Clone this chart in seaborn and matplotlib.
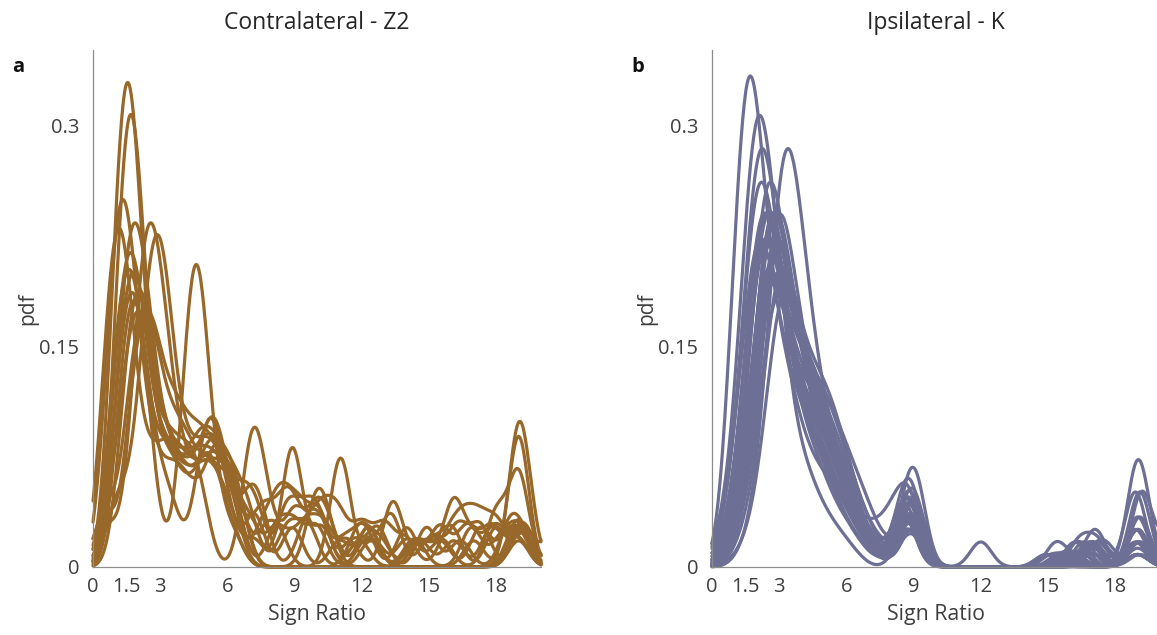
import numpy as np
import pandas as pd
import matplotlib
matplotlib.use("Agg")
import matplotlib.pyplot as plt
import seaborn as sns

# Sign-ratio observations per animal, written as (sign ratio, number of trials).
# Ratios above 20 fall outside the plotted range but still belong to each pdf.

# ---- Contralateral - Z2 ----
z2_01 = [(0.9, 8), (1.25, 13), (1.6, 15), (1.95, 11), (2.3, 6), (2.9, 6), (3.5, 5), (4.2, 5),
         (5.0, 6), (5.6, 4), (6.3, 2), (9.9, 4), (10.4, 3), (19.0, 10), (19.5, 2)]
z2_02 = [(1.0, 6), (1.35, 12), (1.7, 14), (2.05, 11), (2.4, 6), (3.0, 5), (3.6, 5), (4.3, 4),
         (5.0, 5), (5.5, 5), (6.0, 3), (7.2, 4), (8.9, 3), (11.0, 2), (12.3, 3), (17.0, 2), (19.0, 10)]
z2_03 = [(1.1, 6), (1.5, 10), (1.9, 11), (2.3, 9), (2.7, 6), (3.2, 5), (3.8, 5), (4.5, 5),
         (5.2, 7), (5.7, 5), (6.3, 3), (7.6, 3), (8.4, 5), (9.2, 4), (10.1, 4), (11.9, 2),
         (14.4, 2), (16.9, 3), (18.2, 2), (19.0, 3)]
z2_04 = [(0.6, 6), (1.0, 10), (1.35, 11), (1.7, 9), (2.1, 6), (2.6, 5), (3.2, 4), (3.8, 5),
         (4.5, 4), (5.3, 6), (5.9, 5), (6.5, 4), (19.1, 3), (22.0, 22)]
z2_05 = [(0.7, 3), (1.8, 6), (2.2, 10), (2.6, 11), (3.0, 9), (3.4, 6), (3.9, 5), (4.6, 5),
         (5.3, 5), (5.9, 4), (6.4, 3), (8.2, 3), (9.0, 3), (10.0, 3), (12.2, 2), (13.3, 4),
         (15.0, 2), (16.0, 3), (18.0, 3), (19.3, 3), (22.0, 7)]
z2_06 = [(0.9, 3), (1.4, 3), (2.05, 5), (2.45, 9), (2.85, 11), (3.25, 9), (3.65, 6), (4.3, 6),
         (5.0, 6), (5.6, 5), (6.2, 3), (7.0, 4), (7.5, 3), (9.5, 3), (10.2, 3), (12.4, 2),
         (14.6, 2), (16.1, 2), (17.8, 3), (19.0, 3), (22.0, 9)]
z2_07 = [(0.5, 6), (0.85, 9), (1.2, 10), (1.55, 8), (1.9, 5), (2.5, 5), (3.1, 5), (3.7, 6),
         (4.4, 5), (5.1, 5), (5.7, 5), (6.3, 3), (19.0, 2), (22.0, 26)]
z2_08 = [(0.4, 3), (1.2, 5), (1.6, 7), (2.0, 8), (2.4, 7), (2.8, 5), (3.3, 5), (3.9, 5),
         (4.6, 6), (5.2, 6), (5.8, 5), (6.4, 4), (7.0, 3), (8.6, 4), (9.3, 3), (10.0, 4),
         (11.2, 2), (12.1, 3), (14.0, 3), (15.5, 2), (17.3, 3), (18.5, 2), (19.1, 2), (22.0, 3)]
z2_09 = [(0.6, 4), (1.5, 5), (1.9, 7), (2.3, 8), (2.7, 7), (3.1, 5), (3.6, 6), (4.2, 6),
         (4.9, 5), (5.5, 4), (6.1, 4), (6.8, 4), (7.4, 3), (8.9, 9), (10.2, 3), (11.6, 2),
         (12.7, 3), (14.9, 3), (16.4, 2), (18.6, 3), (19.2, 2), (22.0, 4)]
z2_10 = [(1.0, 5), (1.4, 8), (1.8, 9), (2.2, 7), (2.6, 4), (3.7, 1), (4.2, 8), (4.6, 12),
         (5.0, 8), (5.6, 3), (6.3, 2), (18.8, 2), (19.2, 2), (21.5, 17), (23.0, 12)]
z2_11 = [(1.0, 5), (1.4, 8), (1.8, 9), (2.2, 8), (2.6, 5), (3.2, 6), (3.8, 5), (4.4, 5),
         (4.9, 3), (7.0, 6), (7.4, 5), (8.0, 2), (9.0, 4), (10.0, 4), (10.6, 2), (12.3, 3),
         (14.3, 2), (15.5, 3), (16.7, 3), (17.8, 3), (19.0, 3), (22.0, 3)]
z2_12 = [(1.2, 6), (1.6, 8), (2.0, 8), (2.4, 6), (3.0, 4), (3.6, 3), (4.8, 5), (5.3, 6),
         (5.8, 4), (6.6, 3), (7.6, 4), (8.5, 4), (9.1, 3), (10.0, 3), (10.5, 2), (11.0, 3),
         (12.0, 3), (13.0, 3), (14.0, 2), (15.8, 2), (16.5, 3), (17.2, 3), (18.0, 3), (19.0, 2),
         (22.0, 3)]
z2_13 = [(0.8, 5), (1.2, 8), (1.6, 9), (2.0, 8), (2.4, 5), (3.0, 5), (3.6, 5), (4.3, 5),
         (5.0, 6), (5.6, 5), (6.2, 4), (7.0, 3), (8.2, 3), (11.05, 8), (12.5, 2), (14.0, 2),
         (15.2, 2), (16.3, 3), (17.3, 3), (19.0, 2), (19.6, 1), (22.0, 2)]
z2_14 = [(1.3, 5), (1.7, 8), (2.1, 9), (2.5, 7), (2.9, 5), (3.5, 6), (4.2, 5), (4.8, 5),
         (5.4, 5), (6.0, 4), (6.6, 3), (7.8, 3), (8.6, 2), (9.5, 3), (10.3, 3), (11.4, 2),
         (13.4, 5), (14.8, 2), (16.1, 5), (17.0, 2), (18.0, 3), (19.0, 2), (22.0, 6)]
z2_15 = [(0.9, 5), (1.3, 9), (1.7, 10), (2.1, 8), (2.5, 5), (3.0, 5), (3.6, 5), (4.2, 4),
         (4.9, 5), (5.5, 4), (6.1, 3), (7.2, 2), (8.7, 3), (9.6, 3), (11.9, 3), (12.8, 2),
         (14.5, 2), (15.6, 2), (18.0, 4), (19.0, 7), (20.8, 7)]
z2_16 = [(0.5, 4), (1.6, 5), (2.0, 7), (2.4, 8), (2.8, 7), (3.2, 5), (3.7, 7), (4.3, 6),
         (4.9, 6), (5.5, 5), (6.1, 4), (6.6, 3), (18.9, 2), (19.4, 2), (21.5, 20),
         (22.5, 9)]

# ---- Ipsilateral - K ----
k_01 = [(0.8, 6), (1.2, 12), (1.6, 17), (2.0, 14), (2.4, 9), (2.8, 7), (3.2, 6), (3.6, 5),
        (4.0, 4), (4.5, 4), (5.0, 3), (5.5, 3), (6.0, 2), (6.5, 1), (7.0, 1), (8.5, 1),
        (9.0, 2), (19.0, 3)]
k_02 = [(0.0, 1), (0.5, 3), (1.0, 9), (1.5, 25), (2.0, 37), (2.5, 30), (3.0, 21), (3.5, 11),
        (4.0, 8), (4.5, 6), (5.0, 4), (5.5, 3), (6.0, 2), (6.5, 1), (8.5, 3), (9.0, 5),
        (15.8, 2), (19.0, 3), (22.5, 26)]
k_03 = [(0.1, 1), (0.6, 3), (1.1, 9), (1.6, 23), (2.1, 34), (2.6, 28), (3.1, 20), (3.6, 13),
        (4.1, 10), (4.6, 8), (5.1, 6), (5.6, 4), (6.1, 3), (6.6, 2), (7.1, 1), (8.4, 3),
        (8.9, 4), (17.0, 3), (19.0, 2), (22.5, 23)]
k_04 = [(1.25, 1), (1.75, 3), (2.25, 9), (2.75, 23), (3.25, 34), (3.75, 28), (4.25, 20),
        (4.75, 13), (5.25, 10), (5.75, 7), (6.25, 5), (6.75, 3), (7.25, 2), (7.75, 1),
        (8.9, 9), (9.4, 2), (15.5, 2), (18.9, 6), (22.5, 22)]
k_05 = [(0.45, 1), (0.95, 3), (1.45, 8), (1.95, 21), (2.45, 31), (2.95, 26), (3.45, 19),
        (3.95, 14), (4.45, 12), (4.95, 10), (5.45, 7), (5.95, 5), (6.45, 3), (6.95, 2),
        (7.45, 1), (8.5, 4), (9.0, 4), (16.2, 2), (19.1, 12), (22.5, 15)]
k_06 = [(0.05, 1), (0.55, 3), (1.05, 8), (1.55, 21), (2.05, 31), (2.55, 26), (3.05, 19),
        (3.55, 13), (4.05, 11), (4.55, 9), (5.05, 7), (5.55, 5), (6.05, 3), (6.55, 2),
        (7.05, 1), (8.3, 3), (8.8, 9), (17.2, 4), (19.0, 6), (22.5, 18)]
k_07 = [(0.6, 1), (1.1, 3), (1.6, 8), (2.1, 20), (2.6, 28), (3.1, 24), (3.6, 18), (4.1, 15),
        (4.6, 13), (5.1, 11), (5.6, 8), (6.1, 5), (6.6, 3), (7.1, 2), (7.6, 1), (8.9, 6),
        (15.6, 2), (19.2, 12), (20.5, 6), (22.5, 14)]
k_08 = [(0.3, 1), (0.8, 3), (1.3, 8), (1.8, 20), (2.3, 28), (2.8, 24), (3.3, 18), (3.8, 13),
        (4.3, 11), (4.8, 9), (5.3, 7), (5.8, 5), (6.3, 3), (6.8, 2), (7.3, 1), (8.6, 6),
        (9.1, 12), (16.8, 4), (19.0, 4), (22.5, 21)]
k_09 = [(0.7, 1), (1.2, 3), (1.7, 8), (2.2, 20), (2.7, 28), (3.2, 24), (3.7, 18), (4.2, 13),
        (4.7, 10), (5.2, 8), (5.7, 6), (6.2, 4), (6.7, 3), (7.2, 2), (7.7, 1), (8.2, 3),
        (8.7, 6), (17.0, 2), (19.0, 2), (22.5, 38)]
k_10 = [(0.4, 1), (0.9, 3), (1.4, 8), (1.9, 20), (2.4, 28), (2.9, 24), (3.4, 19), (3.9, 15),
        (4.4, 13), (4.9, 11), (5.4, 9), (5.9, 6), (6.4, 4), (6.9, 2), (7.4, 1), (8.7, 10),
        (9.2, 2), (15.9, 2), (19.0, 8), (22.5, 14)]
k_11 = [(0.9, 1), (1.4, 3), (1.9, 8), (2.4, 20), (2.9, 28), (3.4, 24), (3.9, 17), (4.4, 13),
        (4.9, 10), (5.4, 8), (5.9, 5), (6.4, 3), (6.9, 2), (7.4, 1), (8.8, 8), (16.4, 4),
        (17.2, 4), (19.1, 4), (22.5, 37)]
k_12 = [(0.2, 1), (0.7, 3), (1.2, 8), (1.7, 18), (2.2, 26), (2.7, 22), (3.2, 18), (3.7, 15),
        (4.2, 13), (4.7, 11), (5.2, 9), (5.7, 6), (6.2, 4), (6.7, 2), (7.2, 1), (8.2, 4),
        (8.7, 6), (16.0, 2), (19.0, 6), (22.5, 25)]
k_13 = [(0.5, 1), (1.0, 3), (1.5, 8), (2.0, 18), (2.5, 26), (3.0, 22), (3.5, 17), (4.0, 15),
        (4.5, 14), (5.0, 12), (5.5, 8), (6.0, 5), (6.5, 3), (7.0, 2), (7.5, 1), (8.9, 10),
        (14.9, 2), (16.9, 4), (19.0, 6), (22.5, 23)]
k_14 = [(0.8, 1), (1.3, 3), (1.8, 8), (2.3, 18), (2.8, 26), (3.3, 22), (3.8, 17), (4.3, 13),
        (4.8, 11), (5.3, 9), (5.8, 7), (6.3, 5), (6.8, 3), (7.3, 2), (7.8, 1), (8.6, 10),
        (9.1, 6), (15.4, 4), (16.6, 2), (17.5, 4), (19.1, 4), (22.5, 24)]
k_15 = [(0.3, 1), (0.8, 3), (1.3, 8), (1.8, 18), (2.3, 26), (2.8, 22), (3.3, 17), (3.8, 13),
        (4.3, 11), (4.8, 9), (5.3, 7), (5.8, 5), (6.3, 3), (6.8, 2), (7.3, 1), (8.6, 6),
        (9.1, 6), (16.2, 4), (19.0, 2), (22.5, 36)]
k_16 = [(0.6, 1), (1.1, 3), (1.6, 7), (2.1, 17), (2.6, 25), (3.1, 21), (3.6, 17), (4.1, 15),
        (4.6, 13), (5.1, 11), (5.6, 9), (6.1, 7), (6.6, 4), (7.1, 2), (7.6, 1), (8.8, 8),
        (17.0, 4), (18.9, 12), (22.5, 23)]
k_17 = [(1.0, 1), (1.5, 3), (2.0, 7), (2.5, 16), (3.0, 24), (3.5, 20), (4.0, 16), (4.5, 14),
        (5.0, 13), (5.5, 11), (6.0, 8), (6.5, 5), (7.0, 3), (7.5, 2), (8.0, 1), (8.8, 10),
        (15.7, 2), (17.1, 6), (19.0, 4), (22.5, 34)]
k_18 = [(0.4, 1), (0.9, 3), (1.4, 7), (1.9, 16), (2.4, 24), (2.9, 20), (3.4, 16), (3.9, 12),
        (4.4, 10), (4.9, 8), (5.4, 6), (5.9, 4), (6.4, 3), (6.9, 2), (7.4, 1), (8.5, 6),
        (9.0, 8), (16.6, 4), (19.0, 16), (19.5, 2), (22.5, 31)]
k_19 = [(0.7, 1), (1.2, 3), (1.7, 7), (2.2, 16), (2.7, 23), (3.2, 20), (3.7, 16), (4.2, 14),
        (4.7, 12), (5.2, 10), (5.7, 8), (6.2, 6), (6.7, 3), (7.2, 2), (7.7, 1), (8.8, 8),
        (15.2, 2), (16.4, 4), (19.0, 6), (22.5, 38)]
k_20 = [(0.5, 1), (1.0, 3), (1.5, 6), (2.0, 15), (2.5, 23), (3.0, 19), (3.5, 15), (4.0, 13),
        (4.5, 12), (5.0, 11), (5.5, 9), (6.0, 6), (6.5, 4), (7.0, 2), (7.5, 1), (8.9, 6),
        (17.3, 4), (18.9, 4), (22.5, 47)]
k_21 = [(1.1, 1), (1.6, 2), (2.1, 6), (2.6, 14), (3.1, 22), (3.6, 19), (4.1, 15), (4.6, 13),
        (5.1, 12), (5.6, 10), (6.1, 8), (6.6, 6), (7.1, 4), (7.6, 2), (8.1, 1), (8.7, 6),
        (9.3, 4), (12.0, 4), (16.0, 2), (17.0, 2), (19.1, 2), (22.5, 45)]
k_22 = [(0.8, 1), (1.3, 3), (1.8, 6), (2.3, 14), (2.8, 22), (3.3, 18), (3.8, 15), (4.3, 14),
        (4.8, 13), (5.3, 11), (5.8, 9), (6.3, 6), (6.8, 4), (7.3, 2), (7.8, 1), (8.8, 10),
        (9.3, 4), (15.8, 2), (17.0, 4), (19.0, 4), (22.5, 37)]
k_23 = [(0.0, 1), (0.5, 3), (1.0, 8), (1.5, 18), (2.0, 26), (2.5, 22), (3.0, 17), (3.5, 13),
        (4.0, 11), (4.5, 9), (5.0, 7), (5.5, 5), (6.0, 3), (6.5, 2), (7.0, 1), (8.3, 6),
        (8.8, 6), (15.0, 2), (19.0, 2), (22.5, 38)]
k_24 = [(0.6, 1), (1.1, 3), (1.6, 8), (2.1, 20), (2.6, 28), (3.1, 24), (3.6, 18), (4.1, 14),
        (4.6, 12), (5.1, 10), (5.6, 7), (6.1, 5), (6.6, 3), (7.1, 2), (7.6, 1), (8.8, 6),
        (16.0, 2), (19.0, 2), (22.5, 34)]
k_25 = [(0.2, 1), (0.7, 3), (1.2, 8), (1.7, 20), (2.2, 28), (2.7, 24), (3.2, 18), (3.7, 14),
        (4.2, 12), (4.7, 10), (5.2, 8), (5.7, 6), (6.2, 4), (6.7, 3), (7.2, 2), (7.7, 1),
        (8.9, 8), (16.5, 2), (19.1, 8), (22.5, 20)]
k_26 = [(0.9, 1), (1.4, 3), (1.9, 8), (2.4, 18), (2.9, 26), (3.4, 22), (3.9, 16), (4.4, 11),
        (4.9, 8), (5.4, 6), (5.9, 5), (6.4, 4), (6.9, 3), (7.4, 3), (7.9, 4), (8.4, 6),
        (8.9, 8), (17.0, 2), (19.0, 2), (22.5, 44)]

z2_animals = [z2_01, z2_02, z2_03, z2_04, z2_05, z2_06, z2_07, z2_08,
              z2_09, z2_10, z2_11, z2_12, z2_13, z2_14, z2_15, z2_16]
k_animals = [k_01, k_02, k_03, k_04, k_05, k_06, k_07, k_08, k_09, k_10, k_11, k_12, k_13,
             k_14, k_15, k_16, k_17, k_18, k_19, k_20, k_21, k_22, k_23, k_24, k_25, k_26]

panel_titles = ["Contralateral - Z2", "Ipsilateral - K"]
panel_letters = ["a", "b"]
x_ticks = [0, 1.5, 3, 6, 9, 12, 15, 18]
x_tick_labels = ["0", "1.5", "3", "6", "9", "12", "15", "18"]
y_ticks = [0, 0.15, 0.3]
y_tick_labels = ["0", "0.15", "0.3"]
x_label = "Sign Ratio"
y_label = "pdf"

line_colors = ["#98682a", "#6d7094"]
kernel_widths = [0.45, 0.47]


def long_form(animals):
    rows = []
    for i, obs in enumerate(animals):
        for ratio, n in obs:
            rows.append({"animal": f"{i:02d}", "ratio": ratio, "count": n})
    return pd.DataFrame(rows)


def fixed_width(h):
    """Bandwidth rule giving the same kernel width (in sign-ratio units) to every animal."""
    def factor(kde):
        x = np.asarray(kde.dataset).ravel()
        w = np.asarray(kde.weights)
        m = np.sum(w * x)
        var = np.sum(w * (x - m) ** 2) / (1.0 - np.sum(w ** 2))
        return h / np.sqrt(var)
    return factor


sns.set_style("white")
plt.rcParams["font.family"] = ["Open Sans", "DejaVu Sans"]
plt.rcParams["font.size"] = 14.5

W, H = 1157, 635
fig = plt.figure(figsize=(W / 100, H / 100), dpi=100)
ax_w = 448 / W
ax_h = 517 / H
ax_b = 68 / H
axes = [fig.add_axes([93 / W, ax_b, ax_w, ax_h]),
        fig.add_axes([712 / W, ax_b, ax_w, ax_h])]

spine_gray = "#8c8c8c"
text_gray = "#3f3f3f"

for ax, animals, color, h, title, letter in zip(
        axes, [z2_animals, k_animals], line_colors, kernel_widths, panel_titles, panel_letters):
    df = long_form(animals)
    n_animals = df["animal"].nunique()
    sns.kdeplot(data=df, x="ratio", weights="count", hue="animal",
                palette=[color] * n_animals, common_norm=False,
                bw_method=fixed_width(h), cut=100, clip=(0, 20), gridsize=600,
                linewidth=2.3, legend=False, ax=ax)
    for line in ax.lines:
        line.set_clip_on(False)
        line.set_solid_capstyle("round")

    ax.set_xlim(0, 20)
    ax.set_ylim(0, 0.351)
    ax.set_xticks(x_ticks)
    ax.set_xticklabels(x_tick_labels)
    ax.set_yticks(y_ticks)
    ax.set_yticklabels(y_tick_labels)
    ax.tick_params(direction="in", length=4, width=0.8, color=spine_gray,
                   labelcolor=text_gray, labelsize=14.5)
    ax.tick_params(axis="x", pad=7)
    ax.tick_params(axis="y", pad=10)
    for side in ["top", "right"]:
        ax.spines[side].set_visible(False)
    for side in ["left", "bottom"]:
        ax.spines[side].set_color(spine_gray)
        ax.spines[side].set_linewidth(0.9)

    ax.set_xlabel(x_label, color=text_gray, fontsize=15.3)
    ax.xaxis.set_label_coords(0.5, -0.072)
    ax.set_ylabel(y_label, color=text_gray, fontsize=15)
    ax.yaxis.set_label_coords(-0.122, 0.5)
    ax.set_title(title, color="#262626", fontsize=16.5, pad=15)

    pos = ax.get_position()
    fig.text(pos.x0 - 81 / W, 1 - 67 / H, letter, fontsize=14.5, fontweight="bold",
             color="#111111", ha="left", va="center")

fig.savefig("out.png", dpi=100)
